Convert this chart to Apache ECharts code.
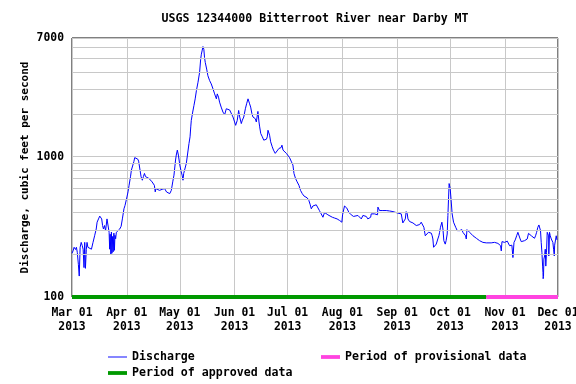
<!DOCTYPE html>
<html><head><meta charset="utf-8">
<script src="https://cdn.jsdelivr.net/npm/echarts@6/dist/echarts.min.js"></script>
<style>html,body{margin:0;padding:0;background:#fff}#c{width:576px;height:384px}</style>
</head><body><div id="c"></div>
<script>
// Series start date; observations are given as days elapsed since this date.
const startDate = '2013-03-01';
const endDate = '2013-12-01';
const dayOffsets = [0,0.6,1.2,2,2.5,3,3.6,4.1,4.6,5.2,5.8,6.3,6.8,7.2,7.6,8.1,8.5,9,9.5,10,11,11.9,12.8,13.7,14.2,15,15.7,16.3,16.8,17.3,17.8,18.4,19,19.8,20.4,21,21.3,21.6,22,22.3,22.6,23,23.3,23.7,24,24.3,24.7,25.1,26,27,27.8,28.5,29.4,30,31.1,31.7,32.3,33.1,33.6,34.2,35,35.5,36,36.6,37.2,37.7,38.5,39.1,39.8,40.4,41,41.6,42.3,43.5,44.2,45.3,46.6,47.1,47.5,48.5,49.5,51,52.4,53.5,54.5,55.3,56.2,57,57.7,58.6,59,59.6,60.2,60.6,61,61.8,62.3,62.8,63.2,63.7,64.7,65.6,66.2,66.8,67.2,67.5,68.3,69,69.7,70.4,71.3,72.2,72.8,73.2,73.6,74.1,74.6,75,75.4,76.2,76.9,77.9,78.8,79.8,80.7,81.7,82.2,82.9,83.5,84.4,85.4,86.4,87.3,88.2,89.2,90.2,91.1,92,92.6,93.5,94.3,94.9,95.8,96.4,97.2,98.1,98.8,99.6,100.5,101.1,101.8,102.4,103.3,103.7,104.3,105.2,105.8,106.2,106.8,107.7,108.5,109.3,110,110.5,110.9,111.4,111.8,112.4,113.3,114,115,116,117.1,117.8,118.3,118.8,119.4,120,121.3,122.3,123.1,124,125,125.6,126.5,127.4,128.4,129.3,130.3,131.2,132.2,133.1,134,134.8,135.4,136.3,137.3,138.2,139.1,140,141,142,142.9,143.9,144.8,145.8,147.3,148.6,150,151.4,152.7,153.1,154.2,154.8,155.5,156.7,158,159.3,159.9,161.8,163.7,164.6,165.6,166.5,167.4,168.4,169,169.3,170.3,171.2,172.2,172.9,173.1,174,175.9,177.8,178.8,179.7,180.6,181.6,182.5,184.4,186.3,186.9,187.2,187.8,188.6,189.1,189.7,190.1,191,191.9,192.9,193.8,194.8,195.7,196.7,197.6,198.5,199.1,199.9,200.4,201,201.7,202.5,203.3,203.8,204.2,204.6,205.1,206.1,207,207.6,208,208.5,209.3,209.9,210.4,211.2,211.7,212.3,212.7,213.1,213.4,213.6,214,214.6,215.1,215.9,216.4,217.1,218,218.8,219.3,220.3,220.6,221.2,222.2,222.7,223.1,223.5,224,225,225.9,226.9,227.8,228.8,229.7,230.6,231.6,232.5,233.5,234.4,235.4,237.2,238.2,239.1,240.1,241,242,242.5,242.9,243.3,243.8,244.8,245.7,246.3,247,247.6,248.2,248.9,249.5,250.1,250.8,251.6,252.3,252.9,253.6,254.2,255.1,256.1,257,257.6,258.3,258.9,259.9,260.4,261,261.7,262.3,262.9,263.6,264.2,264.8,265.1,265.5,265.9,266.3,266.5,266.6,266.8,267,267.4,267.8,268.1,268.5,268.9,269.3,269.7,269.8,270.2,270.6,271.2,271.5,272.1,272.5,272.9,273.1,273.6,274,274.4];
const discharge = [205,213,226,218,226,208,171,141,226,245,232,219,162,245,160,219,245,226,232,226,219,245,273,305,341,360,377,377,360,323,305,323,297,360,355,289,219,280,200,290,205,270,210,285,215,275,260,289,297,305,319,360,425,449,516,561,625,718,801,820,921,984,1016,1000,960,929,801,718,679,720,759,720,698,700,679,661,625,561,592,575,575,585,592,560,575,545,575,661,738,946,1026,1113,1026,1000,871,780,738,679,759,801,896,921,1241,1384,1629,1813,2078,2313,2580,2953,3387,3985,4943,5366,5663,6082,5820,5083,4690,4205,3770,3476,3296,3036,2799,2580,2799,2654,2444,2254,2078,1991,2193,2200,2150,2133,1916,1766,1671,1813,2133,1916,1720,1820,1916,2193,2378,2580,2378,2254,2022,1916,1950,1864,1766,2100,1766,1629,1461,1384,1310,1350,1330,1384,1541,1566,1421,1276,1176,1113,1055,1084,1144,1176,1160,1207,1113,1084,1055,1026,984,929,871,759,698,661,625,575,545,525,525,508,488,454,425,445,440,454,445,413,391,370,400,405,385,381,370,365,360,351,341,385,445,454,430,400,385,375,370,381,360,381,381,375,360,360,370,391,385,391,385,385,437,413,413,413,406,410,413,406,403,396,391,381,337,345,360,406,391,360,345,341,337,332,323,323,328,341,335,314,273,270,281,289,292,285,273,259,226,222,238,259,273,289,314,341,305,252,238,252,281,381,516,643,660,592,475,391,341,345,314,297,292,297,289,302,289,289,273,259,302,297,289,281,273,266,262,255,252,248,245,241,243,241,243,244,245,245,241,245,232,213,248,243,245,245,250,248,232,226,234,191,245,255,273,289,281,259,248,252,252,252,259,284,277,273,281,266,262,273,289,314,326,332,297,245,208,166,149,135,140,186,196,219,166,208,289,297,273,196,289,273,259,266,245,219,196,234,255,273,255];
const approvedPeriod = ['2013-03-01', '2013-10-21 10:00'];
const provisionalPeriod = ['2013-10-21 10:00', '2013-12-01'];
const monthTicks = ['2013-03-01','2013-04-01','2013-05-01','2013-06-01','2013-07-01','2013-08-01','2013-09-01','2013-10-01','2013-11-01','2013-12-01'];
const yMin = 100, yMax = 7000;
const yMinorGrid = [200,300,400,500,600,700,800,900,2000,3000,4000,5000,6000];
const monthNames = ['Jan','Feb','Mar','Apr','May','Jun','Jul','Aug','Sep','Oct','Nov','Dec'];

const FONT = '"DejaVu Sans Mono", monospace';
const toTs = s => echarts.time.parse(s).getTime();
const base = toTs(startDate);
const dischargeData = dayOffsets.map((d, i) => [base + d * 86400000, discharge[i]]);
const tickTs = monthTicks.map(toTs);
const legendText = {fontFamily: FONT, fontSize: 11.6, fontWeight: 'bold', color: '#000'};
const thinIcon = 'path://M0,0H20V1H0Z';
const thickIcon = 'path://M0,0H20V4H0Z';
const legendCommon = {padding: 0, itemWidth: 19, itemHeight: 12, textStyle: legendText};

const chart = echarts.init(document.getElementById('c'), null, {renderer: 'canvas'});
chart.setOption({
  animation: false,
  backgroundColor: '#fff',
  title: {
    text: 'USGS 12344000 Bitterroot River near Darby MT',
    left: 310, top: 8, textAlign: 'center',
    textStyle: {fontFamily: FONT, fontSize: 11.6, fontWeight: 'bold', color: '#000'}
  },
  grid: {left: 72, right: 18, top: 38, bottom: 87, show: true, borderColor: '#000', borderWidth: 1,
         backgroundColor: 'transparent', outerBoundsMode: 'none', containLabel: false},
  legend: [
    Object.assign({data: [{name: 'Discharge', icon: thinIcon}], left: 108, top: 351}, legendCommon),
    Object.assign({data: [{name: 'Period of approved data', icon: thickIcon}], left: 108, top: 367}, legendCommon),
    Object.assign({data: [{name: 'Period of provisional data', icon: thickIcon}], left: 321, top: 351}, legendCommon)
  ],
  xAxis: {
    type: 'value',
    min: toTs(startDate), max: toTs(endDate),
    axisLine: {show: false},
    axisTick: {show: false, customValues: tickTs},
    splitLine: {show: true, lineStyle: {color: '#c8c8c8', width: 1}},
    axisLabel: {
      customValues: tickTs,
      margin: 9, lineHeight: 14,
      fontFamily: FONT, fontSize: 11.4, fontWeight: 'bold', color: '#000',
      formatter: v => { const d = new Date(v); return monthNames[d.getMonth()] + ' ' + String(d.getDate()).padStart(2, '0') + '\n' + d.getFullYear(); }
    }
  },
  yAxis: {
    type: 'log', logBase: 10, min: yMin, max: yMax,
    name: 'Discharge, cubic feet per second',
    nameLocation: 'middle', nameGap: 41, nameMoveOverlap: false,
    nameTextStyle: {fontFamily: FONT, fontSize: 11, fontWeight: 'bold', color: '#000'},
    axisLine: {show: false},
    axisTick: {show: false},
    splitLine: {show: true, lineStyle: {color: '#c8c8c8', width: 1}},
    axisLabel: {margin: 8, fontFamily: FONT, fontSize: 11.4, fontWeight: 'bold', color: '#000',
      formatter: v => String(Math.round(v))}
  },
  series: [
    {
      name: 'Period of approved data', type: 'line', symbol: 'none', clip: false,
      lineStyle: {color: '#009900', width: 4}, itemStyle: {color: '#009900'},
      data: approvedPeriod.map(s => [toTs(s), yMin]),
      z: 1,
      markLine: {
        silent: true, symbol: ['none', 'none'], label: {show: false},
        lineStyle: {color: '#c8c8c8', width: 1, type: 'solid'},
        emphasis: {disabled: true},
        data: yMinorGrid.map(v => ({yAxis: v}))
      }
    },
    {
      name: 'Period of provisional data', type: 'line', symbol: 'none', clip: false,
      lineStyle: {color: '#ff44e0', width: 4}, itemStyle: {color: '#ff44e0'},
      data: provisionalPeriod.map(s => [toTs(s), yMin]), z: 3
    },
    {
      name: 'Discharge', type: 'line', symbol: 'none', showSymbol: false,
      lineStyle: {color: '#0000ff', width: 1}, itemStyle: {color: '#0000ff'},
      data: dischargeData, z: 2
    }
  ]
});
</script>
</body></html>
